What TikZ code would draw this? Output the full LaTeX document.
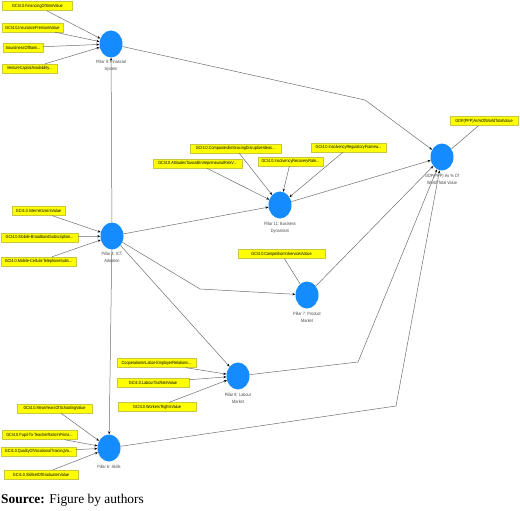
\documentclass[tikz,border=0pt]{standalone}
\usepackage{fontspec}
\setmainfont{Liberation Serif}
\newfontfamily\labfont[FakeStretch=0.84]{Liberation Sans}
\usetikzlibrary{arrows.meta,shapes.geometric}
\definecolor{nodeblue}{RGB}{20,140,255}
\definecolor{boxyellow}{RGB}{255,255,0}
\definecolor{boxedge}{RGB}{200,200,60}
\definecolor{edgegray}{RGB}{110,110,110}
\definecolor{labgray}{RGB}{70,70,70}
\begin{document}
\begin{tikzpicture}[x=1pt,y=-1pt,
  construct/.style={ellipse, fill=nodeblue, minimum width=23pt, minimum height=27pt, inner sep=0pt},
  ind/.style={rectangle, fill=boxyellow, draw=boxedge, line width=0.3pt, minimum height=9pt, inner sep=0pt, font=\labfont\fontsize{4.5}{5}\selectfont},
  clabel/.style={font=\labfont\fontsize{4.6}{7}\selectfont, text=labgray, align=center, anchor=north, inner sep=0pt},
  arr/.style={draw=edgegray, line width=0.5pt, -{Stealth[length=3pt,width=2.4pt,color=black]}},
  plain/.style={draw=edgegray, line width=0.5pt}]
\useasboundingbox (0,0) rectangle (520,511);

% constructs
\node[construct] (p9) at (111,44) {};
\node[construct] (p3) at (112,236) {};
\node[construct] (p6) at (109,448) {};
\node[construct] (p11) at (280,205) {};
\node[construct] (p7) at (307,295) {};
\node[construct] (p8) at (238,376) {};
\node[construct] (gdp) at (442,157) {};

% construct labels
\node[clabel] (p9l) at (111,60) {Pillar 9: Financial\\System};
\node[clabel] (p3l) at (112,252) {Pillar 3: ICT\\Adoption};
\node[clabel] (p6l) at (109,465) {Pillar 6: Skills};
\node[clabel] (p11l) at (280,222) {Pillar 11: Business\\Dynamism};
\node[clabel] (p7l) at (307,312) {Pillar 7: Product\\Market};
\node[clabel] (p8l) at (238,393) {Pillar 8: Labour\\Market};
\node[clabel] (gdpl) at (442,174) {GDP(PPP) As \% Of\\World Total Value};

% indicators
\node[ind, minimum width=70pt] (i1) at (37.5,6) {GCI4.0.FinancingOfSmeValue};
\node[ind, minimum width=61pt] (i2) at (32.5,27.5) {GCI4.0.InsurancePremiumValue};
\node[ind, minimum width=40pt] (i3) at (23,47.5) {SoundnessOfBank...};
\node[ind, minimum width=55pt] (i4) at (29.5,68.5) {VentureCapitalAvailability...};

\node[ind, minimum width=53pt] (i5) at (38.5,211) {GCI4.0.InternetUsersValue};
\node[ind, minimum width=77pt] (i6) at (39.5,237.5) {GCI4.0.Mobile-BroadbandSubscription...};
\node[ind, minimum width=75pt] (i7) at (38.5,261.5) {GCI4.0.Mobile-CellularTelephoneSubs...};

\node[ind, minimum width=75pt] (i8) at (54.5,408.5) {GCI4.0.MeanYearsOfSchoolingValue};
\node[ind, minimum width=75pt] (i9) at (39.5,435) {GCI4.0.Pupil-To-TeacherRatioInPrima...};
\node[ind, minimum width=75pt] (i10) at (38.5,451.5) {GCI4.0.QualityOfVocationalTrainingVa...};
\node[ind, minimum width=74pt] (i11) at (41,474.5) {GCI4.0.SkillsetOfGraduatesValue};

\node[ind, minimum width=91pt] (i12) at (235.5,148.5) {GCI4.0.CompaniesEmbracingDisruptiveIdeas...};
\node[ind, minimum width=89pt] (i13) at (197.5,163.5) {GCI4.0.AttitudesTowardEntrepreneurialRiskV...};
\node[ind, minimum width=65pt] (i14) at (290.5,161.5) {GCI4.0.InsolvencyRecoveryRate...};
\node[ind, minimum width=75pt] (i15) at (348.5,147.5) {GCI4.0.InsolvencyRegulatoryFramew...};

\node[ind, minimum width=87pt] (i16) at (281.5,254) {GCI4.0.CompetitionInServicesValue};

\node[ind, minimum width=79pt] (i17) at (156.5,363) {CooperationInLabor-EmployerRelations...};
\node[ind, minimum width=72pt] (i18) at (153,382.5) {GCI4.0.LabourTaxRateValue};
\node[ind, minimum width=78pt] (i19) at (157,407) {GCI4.0.Workers'RightsValue};

\node[ind, minimum width=68pt] (i20) at (484,121) {GDP(PPP)As\%OfWorldTotalValue};

% bend points
\coordinate (b1) at (365,100);
\coordinate (b2) at (200,289);
\coordinate (b3) at (358,362);
\coordinate (b4) at (396,406);

% indicator edges
\foreach \i in {i1,i2,i3,i4} \draw[arr] (\i) -- (p9);
\foreach \i in {i5,i6,i7} \draw[arr] (\i) -- (p3);
\foreach \i in {i8,i9,i10,i11} \draw[arr] (\i) -- (p6);
\foreach \i in {i12,i13,i14,i15} \draw[arr] (\i) -- (p11);
\draw[plain] (i16) -- (p7);
\foreach \i in {i17,i18,i19} \draw[arr] (\i) -- (p8);
\draw[plain] (i20) -- (gdp);

% structural edges
\draw[arr] (p3) -- (p9);
\draw[arr] (p3) -- (p6);
\draw[arr] (p3) -- (p11);
\draw[arr] (p3) -- (p8);
\draw[arr] (p3) -- (b2) -- (p7);
\draw[arr] (p9) -- (b1) -- (gdp);
\draw[arr] (p11) -- (gdp);
\draw[arr] (p7) -- (gdp);
\draw[arr] (p8) -- (b3) -- (gdp);
\draw[arr] (p6) -- (b4) -- (gdp);

% source
\node[anchor=base west, inner sep=0pt, font=\fontsize{13.4}{15}\selectfont] (src) at (1,503.5) {\textbf{Source:} Figure by authors};
\end{tikzpicture}
\end{document}
